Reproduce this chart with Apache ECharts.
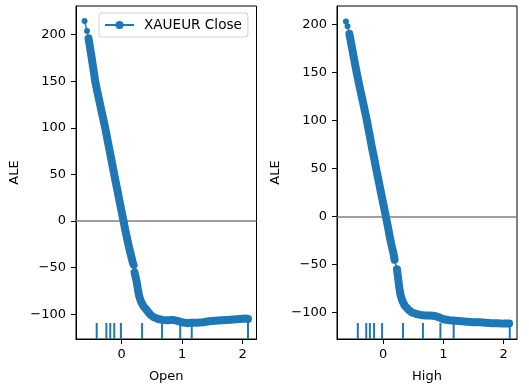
<!DOCTYPE html>
<html>
<head>
<meta charset="utf-8">
<script src="https://cdn.jsdelivr.net/npm/echarts@6/dist/echarts.min.js"></script>
<style>
  html, body { margin: 0; padding: 0; background: #fff; }
  #chart { width: 529px; height: 388px; }
</style>
</head>
<body>
<div id="chart"></div>
<script>
// ALE curve, feature "Open"  [x, ALE]
const openCurve = [
  [-0.61, 214.5], [-0.57, 204], [-0.545, 196], [-0.52, 186], [-0.49, 174],
  [-0.46, 161], [-0.435, 150], [-0.40, 139], [-0.37, 130], [-0.33, 118],
  [-0.30, 109], [-0.27, 100], [-0.24, 90], [-0.21, 80], [-0.18, 70],
  [-0.15, 60], [-0.12, 50], [-0.09, 40], [-0.06, 30.5], [-0.03, 20.5],
  [0.00, 10.8], [0.033, 0], [0.06, -9], [0.09, -18], [0.12, -27],
  [0.15, -35], [0.18, -43], [0.20, -47], [0.215, -55], [0.25, -65],
  [0.27, -73], [0.29, -80], [0.32, -86], [0.36, -91], [0.41, -95],
  [0.47, -100], [0.53, -103], [0.60, -105], [0.68, -106], [0.76, -106.5],
  [0.85, -106], [0.92, -107], [1.00, -108.5], [1.08, -109.5], [1.15, -109],
  [1.25, -109], [1.35, -108.5], [1.45, -107.5], [1.55, -107], [1.65, -106.5],
  [1.75, -106], [1.85, -105.5], [1.95, -105], [2.05, -104.5], [2.09, -105]
]
// ALE curve, feature "High"
const highCurve = [
  [-0.617, 203], [-0.59, 198], [-0.56, 190], [-0.53, 180], [-0.50, 170],
  [-0.47, 160], [-0.44, 150], [-0.41, 141], [-0.38, 132], [-0.35, 123.5],
  [-0.31, 112], [-0.27, 100], [-0.24, 90], [-0.21, 80], [-0.18, 70],
  [-0.15, 61], [-0.117, 50], [-0.09, 41.7], [-0.06, 32.4], [-0.03, 23],
  [0.00, 14], [0.045, 0], [0.08, -11], [0.11, -21], [0.14, -30],
  [0.17, -38], [0.19, -45], [0.23, -55], [0.25, -65], [0.27, -75],
  [0.29, -82], [0.32, -88], [0.36, -93], [0.42, -97], [0.48, -100],
  [0.55, -101.5], [0.62, -102.5], [0.70, -103], [0.78, -103], [0.86, -103.5],
  [0.93, -105], [1.00, -107], [1.10, -108], [1.20, -108.5], [1.30, -109],
  [1.40, -109.5], [1.50, -110], [1.60, -110], [1.70, -110.5], [1.80, -111],
  [1.90, -111], [2.00, -111.5], [2.09, -111.5]
]
// quantile rug marks
const openRug = [-0.41, -0.25, -0.186, -0.12, -0.01, 0.34, 0.67, 0.97, 1.16, 2.09]
const highRug = [-0.42, -0.28, -0.22, -0.15, -0.017, 0.33, 0.66, 0.95, 1.17, 2.1]
const xTicks = [0, 1, 2]
const yTicks = [-100, -50, 0, 50, 100, 150, 200]
const seriesName = 'XAUEUR Close'

const blue = '#1f77b4'
const font = 'DejaVu Sans'
const fs = 13
const yMinL = -126.5, yMaxL = 230.7
const yMinR = -127.5, yMaxR = 219

// dense parts of the curve drawn as a thick band (gap where points are sparse)
const band = (arr, from, gapAt) => arr.slice(from, gapAt).concat([[null, null]], arr.slice(gapAt))
const fmt = v => String(v).replace('-', '\u2212')

const xAxisBase = (idx, name, min, max) => ({
  type: 'value', gridIndex: idx, min: min, max: max,
  name: name, nameLocation: 'middle', nameGap: 31,
  nameTextStyle: { color: '#000', fontFamily: font, fontSize: fs },
  splitLine: { show: false },
  axisLine: { show: true, onZero: false, lineStyle: { color: '#000', width: 1 } },
  axisTick: { show: true, length: 5, customValues: xTicks, lineStyle: { color: '#000' } },
  axisLabel: { customValues: xTicks, formatter: fmt, color: '#000', fontFamily: font, fontSize: fs, margin: 9 }
})
const yAxisBase = (idx, min, max) => ({
  type: 'value', gridIndex: idx, min: min, max: max,
  name: 'ALE', nameLocation: 'middle', nameGap: 55, nameRotate: 90,
  nameTextStyle: { color: '#000', fontFamily: font, fontSize: fs },
  splitLine: { show: false },
  axisLine: { show: true, onZero: false, lineStyle: { color: '#000', width: 1 } },
  axisTick: { show: true, length: 5, customValues: yTicks, lineStyle: { color: '#000' } },
  axisLabel: { customValues: yTicks, formatter: fmt, color: '#000', fontFamily: font, fontSize: fs, margin: 10 }
})

const rugSeries = (idx, vals, yMin) => ({
  type: 'custom', xAxisIndex: idx, yAxisIndex: idx, silent: true,
  data: vals.map(v => [v, yMin]),
  encode: { x: 0, y: 1 },
  renderItem: (params, api) => {
    const p = api.coord([api.value(0), api.value(1)])
    return { type: 'line', shape: { x1: p[0], y1: p[1], x2: p[0], y2: p[1] - 16 },
      style: { stroke: blue, lineWidth: 2 } }
  }
})

const curveSeries = (idx, data) => ({
  name: seriesName, type: 'line', xAxisIndex: idx, yAxisIndex: idx,
  data: data, symbol: 'circle', symbolSize: 6, showSymbol: true,
  itemStyle: { color: blue }, lineStyle: { color: blue, width: 1.5 },
  animation: false, z: 3,
  markLine: {
    silent: true, symbol: 'none', z: 1,
    label: { show: false },
    lineStyle: { color: '#808080', width: 1.5, type: 'solid' },
    data: [{ yAxis: 0 }]
  }
})
const bandSeries = (idx, data) => ({
  name: 'band', type: 'line', xAxisIndex: idx, yAxisIndex: idx,
  data: data, showSymbol: false, symbol: 'none', connectNulls: false,
  lineStyle: { color: blue, width: 8, cap: 'round', join: 'round' },
  animation: false, z: 2
})

const chart = echarts.init(document.getElementById('chart'))
chart.setOption({
  backgroundColor: '#fff',
  animation: false,
  textStyle: { fontFamily: font },
  grid: [
    { left: 76, top: 6, width: 180.5, height: 334, show: true, borderColor: '#000', borderWidth: 1 },
    { left: 337, top: 6, width: 180, height: 334, show: true, borderColor: '#000', borderWidth: 1 }
  ],
  legend: {
    data: [seriesName], left: 99, top: 13,
    padding: [5, 6, 5, 5], itemWidth: 29, itemHeight: 10, itemGap: 8,
    borderColor: '#d0d0d0', borderWidth: 1, borderRadius: 3, backgroundColor: '#fff',
    textStyle: { color: '#000', fontFamily: font, fontSize: 13.6, padding: [0, 0, 0, 5] }
  },
  xAxis: [xAxisBase(0, 'Open', -0.752, 2.23), xAxisBase(1, 'High', -0.765, 2.22)],
  yAxis: [yAxisBase(0, yMinL, yMaxL), yAxisBase(1, yMinR, yMaxR)],
  series: [
    bandSeries(0, band(openCurve, 2, 28)),
    curveSeries(0, openCurve),
    rugSeries(0, openRug, yMinL),
    bandSeries(1, band(highCurve, 2, 27)),
    curveSeries(1, highCurve),
    rugSeries(1, highRug, yMinR)
  ]
})
</script>
</body>
</html>
